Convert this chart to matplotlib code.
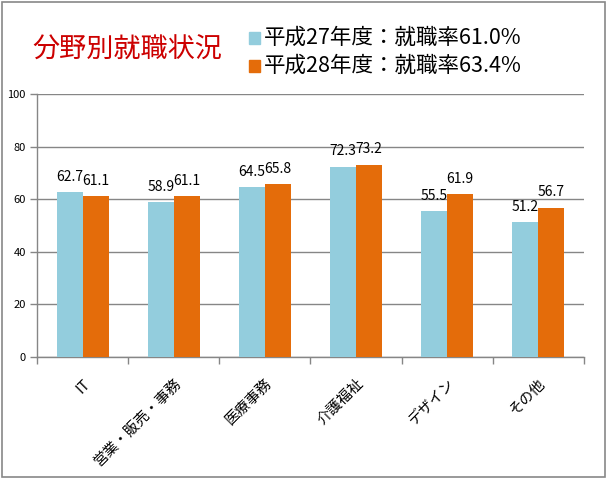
import numpy as np
import matplotlib
matplotlib.use('Agg')
import matplotlib.pyplot as plt
from matplotlib.patches import Rectangle

plt.rcParams['font.family'] = ['Noto Sans CJK JP', 'DejaVu Sans']

categories = ['IT', '営業・販売・事務', '医療事務', '介護福祉', 'デザイン', 'その他']
h27 = [62.7, 58.9, 64.5, 72.3, 55.5, 51.2]
h28 = [61.1, 61.1, 65.8, 73.2, 61.9, 56.7]
series_names = ['平成27年度：就職率61.0%', '平成28年度：就職率63.4%']
title = '分野別就職状況'

blue = '#93cddd'
orange = '#e46c0a'
grid_c = '#868686'

fig = plt.figure(figsize=(6.07, 4.79), dpi=100)
ax = fig.add_axes([0.061, 0.2547, 0.901, 0.549])

x = np.arange(len(categories))
w = 0.285
b1 = ax.bar(x - w / 2, h27, w, color=blue, zorder=3)
b2 = ax.bar(x + w / 2, h28, w, color=orange, zorder=3)

for bars, vals in ((b1, h27), (b2, h28)):
    for r, v in zip(bars, vals):
        ax.text(r.get_x() + r.get_width() / 2, v + 3.2, f'{v:.1f}',
                ha='center', va='bottom', fontsize=10, color='#000000')

ax.set_xlim(-0.5, len(categories) - 0.5)
ax.set_ylim(0, 100)
ax.set_yticks(range(0, 101, 20))
ax.tick_params(axis='y', labelsize=8, length=5, color=grid_c, width=1, pad=3)
ax.yaxis.grid(True, color=grid_c, linewidth=1, zorder=0)
ax.set_axisbelow(True)

ax.set_xticks(x)
ax.set_xticklabels(categories, rotation=45, ha='right', rotation_mode='anchor',
                   fontsize=10.5)
ax.tick_params(axis='x', length=0, pad=14)
ax.set_xticks(np.arange(-0.5, len(categories)), minor=True)
ax.tick_params(axis='x', which='minor', length=5, color=grid_c, width=1)

for s in ('top', 'right'):
    ax.spines[s].set_visible(False)
for s in ('left', 'bottom'):
    ax.spines[s].set_color(grid_c)
    ax.spines[s].set_linewidth(1)

fig.text(0.054, 0.896, title, color='#cc0000', fontsize=19.5, va='center', ha='left')

ys = [0.921, 0.862]
for name, col, yy in zip(series_names, (blue, orange), ys):
    fig.patches.append(Rectangle((0.41, yy - 0.013), 0.019, 0.025,
                                 transform=fig.transFigure, color=col))
    fig.text(0.434, yy, name, fontsize=15.5, va='center', ha='left')

fig.patches.append(Rectangle((0.004, 0.004), 0.992, 0.992, transform=fig.transFigure,
                             fill=False, edgecolor='#888888', linewidth=1.2))

fig.savefig('out.png', dpi=100)
